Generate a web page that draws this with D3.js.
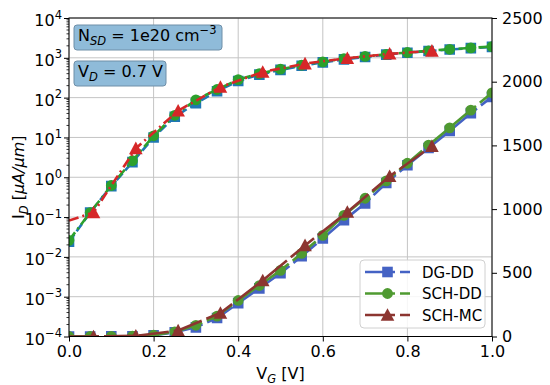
<!DOCTYPE html>
<html>
<head>
<meta charset="utf-8">
<script src="https://cdn.jsdelivr.net/npm/d3@7"></script>
<style>
  body { margin: 0; background: #fff; }
  text { font-family: "DejaVu Sans", sans-serif; fill: #000; }
</style>
</head>
<body>
<div id="chart"></div>
<script>
// gate voltage sweep (drift-diffusion runs)
const vg = [0, 0.05, 0.1, 0.15, 0.2, 0.25, 0.3, 0.35, 0.4, 0.45, 0.5,
            0.55, 0.6, 0.65, 0.7, 0.75, 0.8, 0.85, 0.9, 0.95, 1.0];
// I_D in uA/um
const dgDD  = [0.024, 0.13, 0.6, 2.4, 10, 33, 72, 145, 262, 378, 497,
               630, 770, 912, 1045, 1205, 1344, 1480, 1614, 1753, 1881];
const schDD = [0.026, 0.13, 0.62, 2.6, 11, 36, 88, 160, 283, 400, 519,
               652, 794, 951, 1085, 1221, 1360, 1502, 1638, 1777, 1913];
// monte carlo run has its own bias points
const vgMC  = [0, 0.058, 0.158, 0.258, 0.358, 0.458, 0.558, 0.658, 0.758, 0.858];
const schMC = [0.082, 0.13, 5.3, 47, 185, 440, 715, 977, 1258, 1494];

const seriesNames = ['DG-DD', 'SCH-DD', 'SCH-MC'];
const xTicks = [0, 0.2, 0.4, 0.6, 0.8, 1.0];
const logExps = [-4, -3, -2, -1, 0, 1, 2, 3, 4];
const linTicks = [0, 500, 1000, 1500, 2000, 2500];

const width = 550, height = 385;
const margin = {top: 18, right: 58, bottom: 48.5, left: 69};

const svg = d3.select('#chart').append('svg')
  .attr('width', width)
  .attr('height', height);

const x = d3.scaleLinear().domain([0, 1]).range([margin.left, width - margin.right]);
const yLog = d3.scaleLog().domain([1e-4, 1e4]).range([height - margin.bottom, margin.top]);
const yLin = d3.scaleLinear().domain([0, 2500]).range([height - margin.bottom, margin.top]);

svg.append('clipPath').attr('id', 'plotclip')
  .append('rect')
  .attr('x', margin.left).attr('y', margin.top)
  .attr('width', width - margin.left - margin.right)
  .attr('height', height - margin.top - margin.bottom);

// grid (x ticks + log decades)
const grid = svg.append('g').attr('stroke', '#c4c4c4').attr('stroke-width', 1);
xTicks.forEach(t => {
  grid.append('line').attr('x1', x(t)).attr('x2', x(t))
    .attr('y1', margin.top).attr('y2', height - margin.bottom);
});
logExps.forEach(e => {
  grid.append('line').attr('x1', margin.left).attr('x2', width - margin.right)
    .attr('y1', yLog(Math.pow(10, e))).attr('y2', yLog(Math.pow(10, e)));
});

const markerPath = (shape, cx, cy) => {
  if (shape === 'square') {
    const s = 5.3;
    return `M${cx - s},${cy - s}h${2 * s}v${2 * s}h${-2 * s}Z`;
  }
  if (shape === 'circle') {
    const r = 5.4;
    return `M${cx - r},${cy}a${r},${r} 0 1,0 ${2 * r},0a${r},${r} 0 1,0 ${-2 * r},0Z`;
  }
  const r = 6.8;
  return `M${cx},${cy - r}L${cx + r},${cy + r * 0.85}L${cx - r},${cy + r * 0.85}Z`;
};

const logStyle = [
  {color: '#1f77b4', dash: '9,4', shape: 'square'},
  {color: '#2ca02c', dash: '10,4,2,4', shape: 'circle'},
  {color: '#d62728', dash: '10,4,2,4', shape: 'triangle'}
];
const linStyle = [
  {color: '#4462c4', dash: '30,5', shape: 'square'},
  {color: '#4f9a31', dash: '30,5', shape: 'circle'},
  {color: '#8c3530', dash: '30,5', shape: 'triangle'}
];

const data = [
  vg.map((v, i) => [v, dgDD[i]]),
  vg.map((v, i) => [v, schDD[i]]),
  vgMC.map((v, i) => [v, schMC[i]])
];

function drawSeries(g, pts, y, st, skipFirstMarker) {
  const line = d3.line().x(d => x(d[0])).y(d => y(d[1]));
  g.append('path')
    .attr('d', line(pts))
    .attr('fill', 'none')
    .attr('stroke', st.color)
    .attr('stroke-width', 2.6)
    .attr('stroke-dasharray', st.dash);
  g.selectAll(null)
    .data(skipFirstMarker ? pts.slice(1) : pts)
    .join('path')
    .attr('d', d => markerPath(st.shape, x(d[0]), y(d[1])))
    .attr('fill', st.color);
}

const plot = svg.append('g').attr('clip-path', 'url(#plotclip)');
data.forEach((pts, i) => drawSeries(plot, pts, yLog, logStyle[i], i === 2));
data.forEach((pts, i) => drawSeries(plot, pts, yLin, linStyle[i], i === 2));

// frame
svg.append('rect')
  .attr('x', margin.left).attr('y', margin.top)
  .attr('width', width - margin.left - margin.right)
  .attr('height', height - margin.top - margin.bottom)
  .attr('fill', 'none').attr('stroke', '#000').attr('stroke-width', 1);

// x axis
const xAxis = svg.append('g')
  .attr('transform', `translate(0,${height - margin.bottom})`)
  .call(d3.axisBottom(x).tickValues(xTicks).tickSize(5).tickPadding(4).tickFormat(d3.format('.1f')));
xAxis.select('.domain').remove();
xAxis.selectAll('text').attr('font-size', 16).attr('font-family', 'DejaVu Sans');

// left log axis
const yAxisL = svg.append('g')
  .attr('transform', `translate(${margin.left},0)`)
  .call(d3.axisLeft(yLog).tickValues(logExps.map(e => Math.pow(10, e))).tickSize(5).tickFormat(''));
yAxisL.select('.domain').remove();
// minor ticks
const minors = [];
logExps.slice(0, -1).forEach(e => {
  for (let k = 2; k < 10; k++) minors.push(k * Math.pow(10, e));
});
svg.append('g').selectAll('line').data(minors).join('line')
  .attr('x1', margin.left - 2.5).attr('x2', margin.left)
  .attr('y1', d => yLog(d)).attr('y2', d => yLog(d))
  .attr('stroke', '#000').attr('stroke-width', 0.8);

const logLabels = svg.append('g').attr('font-size', 16).attr('text-anchor', 'end');
logExps.forEach(e => {
  const t = logLabels.append('text')
    .attr('x', 62)
    .attr('y', yLog(Math.pow(10, e)) + 8);
  t.append('tspan').text('10');
  t.append('tspan').attr('dy', -7.5).attr('font-size', 11.5)
    .text(e < 0 ? '\u2212' + (-e) : '' + e);
});

// right linear axis
const yAxisR = svg.append('g')
  .attr('transform', `translate(${width - margin.right},0)`)
  .call(d3.axisRight(yLin).tickValues(linTicks).tickSize(5).tickPadding(5).tickFormat(d3.format('d')));
yAxisR.select('.domain').remove();
yAxisR.selectAll('text').attr('font-size', 16).attr('font-family', 'DejaVu Sans');

// axis labels
const xl = svg.append('text')
  .attr('x', (margin.left + width - margin.right) / 2)
  .attr('y', 379)
  .attr('text-anchor', 'middle')
  .attr('font-size', 16);
xl.append('tspan').text('V');
xl.append('tspan').attr('dy', 4).attr('font-size', 11.5).attr('font-style', 'italic').text('G');
xl.append('tspan').attr('dy', -4).text(' [V]');

const yl = svg.append('text')
  .attr('transform', `translate(24,${(margin.top + height - margin.bottom) / 2}) rotate(-90)`)
  .attr('text-anchor', 'middle')
  .attr('font-size', 16);
yl.append('tspan').text('I');
yl.append('tspan').attr('dy', 4).attr('font-size', 11.5).attr('font-style', 'italic').text('D');
yl.append('tspan').attr('dy', -4).text(' [');
yl.append('tspan').attr('font-style', 'italic').text('\u03bcA/\u03bcm');
yl.append('tspan').text(']');

// annotation boxes
function infoBox(bx, by, bw, bh, build) {
  svg.append('rect')
    .attr('x', bx).attr('y', by).attr('width', bw).attr('height', bh)
    .attr('rx', 3)
    .attr('fill', '#8fbbd9')
    .attr('stroke', '#6f8fa8').attr('stroke-width', 1);
  const t = svg.append('text').attr('x', bx + 4).attr('y', by + 16).attr('font-size', 16);
  build(t);
}
infoBox(74, 25, 148, 25, t => {
  t.append('tspan').text('N');
  t.append('tspan').attr('dy', 4).attr('font-size', 11.5).attr('font-style', 'italic').text('SD');
  t.append('tspan').attr('dy', -4).text(' = 1e20 cm');
  t.append('tspan').attr('dy', -7).attr('font-size', 11.5).text('\u22123');
});
infoBox(74, 61, 92, 25, t => {
  t.append('tspan').text('V');
  t.append('tspan').attr('dy', 4).attr('font-size', 11.5).attr('font-style', 'italic').text('D');
  t.append('tspan').attr('dy', -4).text(' = 0.7 V');
});

// legend
const lg = svg.append('g').attr('transform', 'translate(360,260)');
lg.append('rect')
  .attr('width', 125).attr('height', 68).attr('rx', 4)
  .attr('fill', '#fff').attr('fill-opacity', 0.85)
  .attr('stroke', '#d0d0d0');
seriesNames.forEach((name, i) => {
  const cy = 12 + i * 21.5;
  const st = linStyle[i];
  lg.append('line')
    .attr('x1', 5).attr('x2', 50).attr('y1', cy).attr('y2', cy)
    .attr('stroke', st.color).attr('stroke-width', 2.6)
    .attr('stroke-dasharray', st.dash);
  lg.append('path').attr('d', markerPath(st.shape, 27.5, cy)).attr('fill', st.color);
  lg.append('text').attr('x', 62).attr('y', cy + 5.5).attr('font-size', 15).text(name);
});
</script>
</body>
</html>
